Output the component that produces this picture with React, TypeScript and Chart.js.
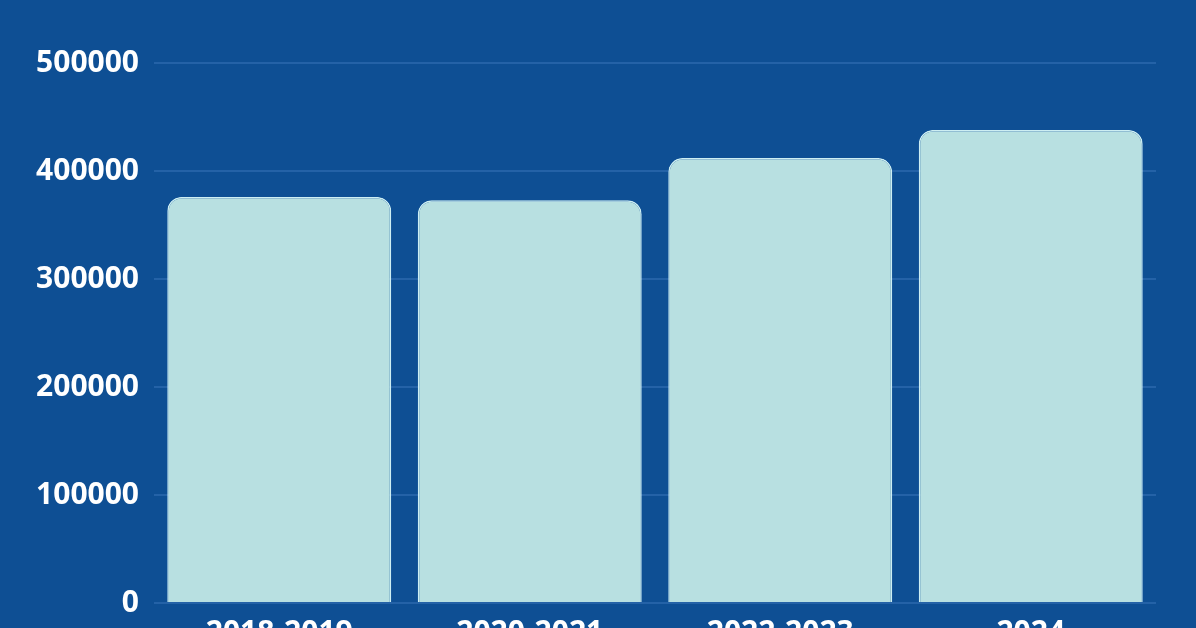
import React, { useEffect, useRef } from "react";
import { Chart, registerables } from "chart.js";

Chart.register(...registerables);

const categories = ["2018-2019", "2020-2021", "2022-2023", "2024"];
const values = [376000, 373000, 412000, 438000];
const yTicks = [0, 100000, 200000, 300000, 400000, 500000];

const BG = "#0e4f94";
const BAR = "#b8e0e1";

export default function App() {
  const ref = useRef<HTMLCanvasElement | null>(null);

  useEffect(() => {
    document.body.style.margin = "0";
    const canvas = ref.current;
    if (!canvas) return;
    const chart = new Chart(canvas, {
      type: "bar",
      data: {
        labels: categories,
        datasets: [
          {
            data: values,
            backgroundColor: BAR,
            borderColor: "#cdeef3",
            borderWidth: 1.5,
            borderSkipped: "bottom",
            borderRadius: { topLeft: 14, topRight: 14, bottomLeft: 0, bottomRight: 0 },
            categoryPercentage: 1,
            barPercentage: 0.894,
          },
        ],
      },
      options: {
        animation: false,
        responsive: false,
        maintainAspectRatio: false,
        layout: { padding: { top: 63, right: 40, bottom: 0, left: 0 } },
        plugins: {
          legend: { display: false },
          tooltip: { enabled: false },
        },
        scales: {
          x: {
            grid: { display: false, drawTicks: false },
            border: { display: false },
            ticks: {
              color: "#ffffff",
              padding: 12,
              font: { family: "'Open Sans'", size: 30, weight: "bold" },
              maxRotation: 0,
              autoSkip: false,
            },
            afterFit: (s: any) => {
              s.height = 40;
            },
          },
          y: {
            min: 0,
            max: 500000,
            afterBuildTicks: (s: any) => {
              s.ticks = yTicks.map((v) => ({ value: v }));
            },
            grid: { color: "#2462a7", lineWidth: 2, drawTicks: false },
            border: { display: false },
            ticks: {
              color: "#ffffff",
              padding: 15,
              font: { family: "'Open Sans'", size: 30, weight: "bold" },
              callback: (v: any) => String(v),
            },
            afterFit: (s: any) => {
              s.width = 154;
            },
          },
        },
      },
    });
    return () => chart.destroy();
  }, []);

  return (
    <div style={{ position: "fixed", left: 0, top: 0, width: 1196, height: 628, background: BG, overflow: "hidden" }}>
      <canvas ref={ref} width={1196} height={643} style={{ display: "block", width: 1196, height: 643 }} />
    </div>
  );
}
